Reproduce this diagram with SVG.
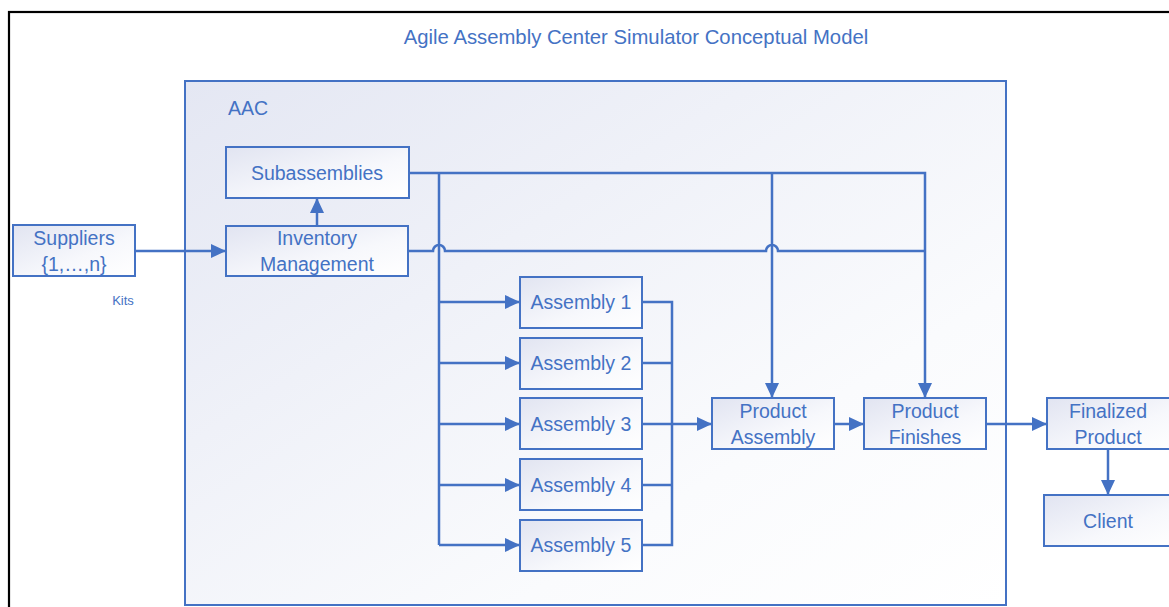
<svg xmlns="http://www.w3.org/2000/svg" width="1169" height="607" viewBox="0 0 1169 607">
<defs>
<linearGradient id="g" x1="0" y1="0" x2="1" y2="1">
<stop offset="0" stop-color="#e1e4f1"/>
<stop offset="0.6" stop-color="#f7f8fc"/>
<stop offset="1" stop-color="#ffffff"/>
</linearGradient>
<linearGradient id="gc" x1="0" y1="0" x2="1" y2="1">
<stop offset="0" stop-color="#e4e7f3"/>
<stop offset="0.7" stop-color="#fafbfd"/>
<stop offset="1" stop-color="#ffffff"/>
</linearGradient>
<marker id="ar" markerUnits="userSpaceOnUse" markerWidth="16" markerHeight="16" refX="15" refY="8" orient="auto">
<path d="M0,1 L15,8 L0,15 z" fill="#4472c4"/>
</marker>
<style>
.box{fill:url(#g);stroke:#4472c4;stroke-width:2}
.t{font-family:"Liberation Sans",Arial,sans-serif;font-size:19.5px;fill:#4472c4;text-anchor:middle}
.c{fill:none;stroke:#4472c4;stroke-width:2.5}
.a{marker-end:url(#ar)}
</style>
</defs>
<rect x="0" y="0" width="1169" height="607" fill="#ffffff"/>
<rect x="9" y="12" width="1200" height="700" fill="none" stroke="#000" stroke-width="2.2"/>
<text class="t" x="636" y="44" style="font-size:20.3px">Agile Assembly Center Simulator Conceptual Model</text>
<g id="aac">
<rect x="185" y="81" width="821" height="524" fill="url(#gc)" stroke="#4472c4" stroke-width="2"/>
<text class="t" x="228" y="115" style="text-anchor:start">AAC</text>
</g>
<g id="connectors">
<path class="c a" d="M135,251 H226"/>
<path class="c a" d="M317,226 V198"/>
<path class="c a" d="M409,173 H925 V398"/>
<path class="c a" d="M772,173 V398"/>
<path class="c" d="M439,173 V545"/>
<path class="c" d="M408,251 H433 A6,6 0 0 1 445,251 H766 A6,6 0 0 1 778,251 H925"/>
<path class="c a" d="M439,302 H520"/>
<path class="c a" d="M439,363 H520"/>
<path class="c a" d="M439,424 H520"/>
<path class="c a" d="M439,485 H520"/>
<path class="c a" d="M439,545 H520"/>
<path class="c" d="M642,302 H672 V545 H642"/>
<path class="c" d="M642,363 H672"/>
<path class="c" d="M642,485 H672"/>
<path class="c a" d="M642,424 H712"/>
<path class="c a" d="M834,424 H864"/>
<path class="c a" d="M986,424 H1047"/>
<path class="c a" d="M1108,449 V495"/>
</g>
<g id="suppliers">
<rect class="box" x="13" y="225" width="122" height="51"/>
<text class="t" x="74" y="245">Suppliers</text>
<text class="t" x="74" y="271">{1,…,n}</text>
</g>
<text class="t" x="123" y="305" style="font-size:13px">Kits</text>
<g id="subassemblies">
<rect class="box" x="226" y="147" width="183" height="51"/>
<text class="t" x="317" y="180">Subassemblies</text>
</g>
<g id="inventory">
<rect class="box" x="226" y="226" width="182" height="50"/>
<text class="t" x="317" y="245">Inventory</text>
<text class="t" x="317" y="271">Management</text>
</g>
<g id="assembly1">
<rect class="box" x="520" y="277" width="122" height="51"/>
<text class="t" x="581" y="309">Assembly 1</text>
</g>
<g id="assembly2">
<rect class="box" x="520" y="338" width="122" height="51"/>
<text class="t" x="581" y="370">Assembly 2</text>
</g>
<g id="assembly3">
<rect class="box" x="520" y="398" width="122" height="51"/>
<text class="t" x="581" y="431">Assembly 3</text>
</g>
<g id="assembly4">
<rect class="box" x="520" y="459" width="122" height="51"/>
<text class="t" x="581" y="492">Assembly 4</text>
</g>
<g id="assembly5">
<rect class="box" x="520" y="520" width="122" height="51"/>
<text class="t" x="581" y="552">Assembly 5</text>
</g>
<g id="productAssembly">
<rect class="box" x="712" y="398" width="122" height="51"/>
<text class="t" x="773" y="418">Product</text>
<text class="t" x="773" y="444">Assembly</text>
</g>
<g id="productFinishes">
<rect class="box" x="864" y="398" width="122" height="51"/>
<text class="t" x="925" y="418">Product</text>
<text class="t" x="925" y="444">Finishes</text>
</g>
<g id="finalizedProduct">
<rect class="box" x="1047" y="398" width="130" height="51"/>
<text class="t" x="1108" y="418">Finalized</text>
<text class="t" x="1108" y="444">Product</text>
</g>
<g id="client">
<rect class="box" x="1044" y="495" width="135" height="51"/>
<text class="t" x="1108" y="528">Client</text>
</g>
</svg>
